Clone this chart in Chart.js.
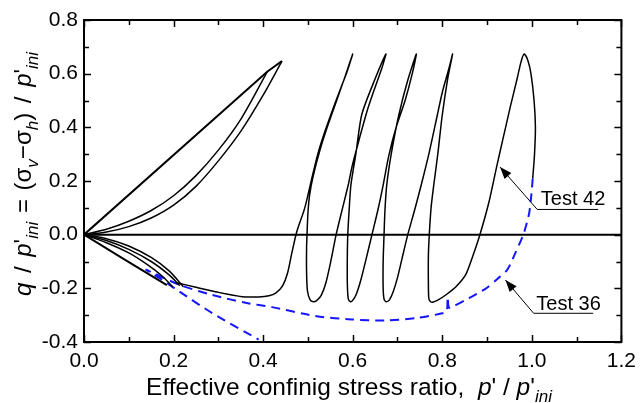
<!DOCTYPE html>
<html><head><meta charset="utf-8">
<script src="https://cdn.jsdelivr.net/npm/chart.js@4"></script>
<style>html,body{margin:0;padding:0;background:#fff}canvas{display:block}</style>
</head><body>
<canvas id="c" width="643" height="403"></canvas>
<script>
// ---------- data ----------
const xTickValues = [0.0, 0.2, 0.4, 0.6, 0.8, 1.0, 1.2];
const yTickValues = [-0.4, -0.2, 0.0, 0.2, 0.4, 0.6, 0.8];

// Test 42 (black): main cyclic path, p'/p'ini vs q/p'ini
const test42Main = [
  [1.002,0.21],[1.006,0.30],[1.008,0.40],[1.005,0.50],[0.998,0.60],[0.991,0.65],[0.983,0.673],
  [0.976,0.645],[0.967,0.58],[0.952,0.477],[0.935,0.353],[0.921,0.25],[0.904,0.12],[0.884,0.0],
  [0.868,-0.08],[0.852,-0.15],[0.83,-0.195],[0.81,-0.222],[0.792,-0.242],[0.780,-0.251],[0.774,-0.250],
  [0.770,-0.238],[0.769,-0.18],[0.769,-0.08],[0.771,0.0],[0.775,0.10],[0.781,0.185],[0.790,0.30],
  [0.800,0.446],[0.812,0.58],[0.823,0.673],
  [0.815,0.62],[0.800,0.53],[0.789,0.446],[0.770,0.30],[0.753,0.185],[0.738,0.09],[0.723,0.0],
  [0.710,-0.09],[0.700,-0.16],[0.690,-0.215],[0.682,-0.243],[0.675,-0.250],[0.670,-0.240],
  [0.668,-0.20],[0.668,-0.10],[0.670,0.0],[0.672,0.09],[0.676,0.185],[0.686,0.30],[0.703,0.446],
  [0.722,0.57],[0.742,0.673],
  [0.733,0.60],[0.717,0.50],[0.697,0.40],[0.680,0.29],[0.668,0.185],[0.656,0.09],[0.643,0.0],
  [0.630,-0.09],[0.618,-0.17],[0.608,-0.222],[0.600,-0.245],[0.595,-0.250],[0.590,-0.238],
  [0.588,-0.18],[0.588,-0.08],[0.589,0.0],[0.592,0.09],[0.596,0.185],[0.607,0.30],[0.620,0.446],
  [0.645,0.56],[0.674,0.673],
  [0.665,0.62],[0.648,0.54],[0.632,0.46],[0.612,0.34],[0.598,0.25],[0.590,0.185],[0.576,0.09],
  [0.563,0.0],[0.551,-0.10],[0.540,-0.18],[0.530,-0.225],[0.520,-0.245],[0.512,-0.250],
  [0.505,-0.243],[0.499,-0.21],[0.497,-0.14],[0.497,-0.05],[0.498,0.0],[0.500,0.08],[0.504,0.15],
  [0.512,0.22],[0.526,0.31],[0.543,0.40],[0.562,0.49],[0.580,0.575],[0.600,0.673],
  [0.588,0.61],[0.572,0.54],[0.555,0.465],[0.538,0.385],[0.522,0.30],[0.508,0.205],[0.493,0.10],
  [0.475,0.01],[0.464,-0.069],[0.455,-0.14],[0.443,-0.192],[0.428,-0.218],[0.413,-0.228],
  [0.390,-0.232],[0.353,-0.231],[0.300,-0.215],[0.250,-0.196],[0.205,-0.178]
];
// Test 42: cycles through the origin
const test42Up1 = [[0,0],[0.409,0.607],[0.442,0.647]];
const test42Up2 = [[0,0],[0.05,0.010],[0.10,0.030],[0.15,0.062],[0.20,0.110],[0.25,0.180],[0.30,0.275],[0.35,0.385],[0.40,0.520],[0.442,0.647]];
const test42Up3 = [[0,0],[0.05,0.020],[0.10,0.050],[0.15,0.090],[0.20,0.145],[0.25,0.220],[0.30,0.315],[0.35,0.430],[0.409,0.607]];
const test42Dn1 = [[0,0],[0.090,-0.092],[0.185,-0.188]];
const test42Dn2 = [[0,0],[0.05,-0.015],[0.10,-0.042],[0.15,-0.085],[0.19,-0.135],[0.222,-0.194]];
const test42Dn3 = [[0,0],[0.05,-0.022],[0.10,-0.055],[0.15,-0.100],[0.19,-0.150],[0.214,-0.190]];
const test42Dn4 = [[0,0],[0.05,-0.030],[0.10,-0.068],[0.14,-0.110],[0.175,-0.155],[0.198,-0.195]];

// Test 36 (blue dashed)
const test36 = [
  [1.002,0.21],[0.999,0.15],[0.994,0.08],[0.982,0.005],[0.963,-0.069],[0.945,-0.131],[0.923,-0.165],
  [0.900,-0.198],[0.878,-0.220],[0.850,-0.245],[0.827,-0.265],[0.815,-0.272],[0.812,-0.232],
  [0.810,-0.285],[0.800,-0.293],[0.745,-0.310],[0.671,-0.320],[0.597,-0.316],[0.523,-0.305],
  [0.494,-0.296],[0.420,-0.270],[0.361,-0.254],[0.287,-0.225],[0.213,-0.187],[0.139,-0.131],
  [0.169,-0.162],[0.213,-0.212],[0.287,-0.293],[0.390,-0.391]
];
const zeroLine = [[0,0],[1.2,0]];

// ---------- styling / helpers ----------
const FAMILY = '"Liberation Sans", Arial, sans-serif';
const toXY = a => a.map(p => ({x: p[0], y: p[1]}));
function blackSet(arr, w, t) {
  return {data: toXY(arr), showLine: true, borderColor: '#000', borderWidth: w || 1.5,
          pointRadius: 0, fill: false, tension: t === undefined ? 0.25 : t};
}
const annotations = [
  {label: 'Test 42', tip: [0.929, 0.252], elbow: [1.012, 0.094], end: [1.148, 0.094], text: [1.02, 0.111]},
  {label: 'Test 36', tip: [0.941, -0.169], elbow: [1.004, -0.293], end: [1.137, -0.293], text: [1.01, -0.281]}
];

function drawRuns(ctx, runs, x, y, size, measureOnly) {
  let cx = x;
  for (const r of runs) {
    if (r.gap) { cx += r.gap; continue; }
    const s = r.sub ? Math.round(size * 0.7) : size;
    ctx.font = (r.it ? 'italic ' : '') + s + 'px ' + FAMILY;
    const dy = r.sub ? size * 0.28 : 0;
    if (!measureOnly) ctx.fillText(r.t, cx, y + dy);
    cx += ctx.measureText(r.t).width;
  }
  return cx - x;
}

const xTitleRuns = [{t: 'Effective confinig stress ratio,  '}, {t: 'p', it: 1}, {t: "' / "}, {t: 'p', it: 1}, {t: "'"}, {t: 'ini', it: 1, sub: 1}];
const yTitleRuns = [{t: 'q', it: 1}, {gap: 3}, {t: ' / '}, {gap: 3}, {t: 'p', it: 1}, {t: "'"}, {t: 'ini', it: 1, sub: 1},
  {gap: 2}, {t: ' = '}, {gap: 2}, {t: '('},
  {t: 'σ'}, {t: 'v', it: 1, sub: 1}, {t: '−'}, {t: 'σ'}, {t: 'h', it: 1, sub: 1}, {t: ')'}, {gap: 3}, {t: ' / '}, {gap: 3},
  {t: 'p', it: 1}, {t: "'"}, {t: 'ini', it: 1, sub: 1}];

const framePlugin = {
  id: 'frame',
  afterDraw(chart) {
    const ctx = chart.ctx, a = chart.chartArea;
    const xs = chart.scales.x, ys = chart.scales.y;
    ctx.save();
    ctx.strokeStyle = '#000';
    ctx.lineWidth = 2;
    ctx.strokeRect(a.left, a.top, a.right - a.left, a.bottom - a.top);
    ctx.lineWidth = 1.5;
    ctx.beginPath();
    const xt = [];
    for (let i = 0; i < xTickValues.length; i++) {
      xt.push([xTickValues[i], 7]);
      if (i < xTickValues.length - 1) xt.push([(xTickValues[i] + xTickValues[i + 1]) / 2, 5]);
    }
    for (const [v, L] of xt) {
      const px = Math.round(xs.getPixelForValue(v)) + 0.5;
      ctx.moveTo(px, a.bottom); ctx.lineTo(px, a.bottom - L);
      ctx.moveTo(px, a.top); ctx.lineTo(px, a.top + L);
    }
    const yt = [];
    for (let i = 0; i < yTickValues.length; i++) {
      yt.push([yTickValues[i], 7]);
      if (i < yTickValues.length - 1) yt.push([(yTickValues[i] + yTickValues[i + 1]) / 2, 5]);
    }
    for (const [v, L] of yt) {
      const py = Math.round(ys.getPixelForValue(v)) + 0.5;
      ctx.moveTo(a.left, py); ctx.lineTo(a.left + L, py);
      ctx.moveTo(a.right, py); ctx.lineTo(a.right - L, py);
    }
    ctx.stroke();

    // annotations
    ctx.fillStyle = '#000';
    ctx.lineWidth = 1;
    for (const an of annotations) {
      const tx = xs.getPixelForValue(an.tip[0]), ty = ys.getPixelForValue(an.tip[1]);
      const ex = xs.getPixelForValue(an.elbow[0]), ey = ys.getPixelForValue(an.elbow[1]);
      const nx = xs.getPixelForValue(an.end[0]), ny = ys.getPixelForValue(an.end[1]);
      ctx.beginPath();
      ctx.moveTo(nx, ny); ctx.lineTo(ex, ey); ctx.lineTo(tx, ty);
      ctx.stroke();
      const ang = Math.atan2(ty - ey, tx - ex);
      const L = 12, W = 4.5;
      ctx.beginPath();
      ctx.moveTo(tx, ty);
      ctx.lineTo(tx - L * Math.cos(ang) + W * Math.sin(ang), ty - L * Math.sin(ang) - W * Math.cos(ang));
      ctx.lineTo(tx - L * Math.cos(ang) - W * Math.sin(ang), ty - L * Math.sin(ang) + W * Math.cos(ang));
      ctx.closePath();
      ctx.fill();
      ctx.font = '20px ' + FAMILY;
      ctx.textBaseline = 'alphabetic';
      ctx.textAlign = 'left';
      ctx.fillText(an.label, xs.getPixelForValue(an.text[0]), ys.getPixelForValue(an.text[1]));
    }

    // axis titles
    ctx.textBaseline = 'alphabetic';
    ctx.textAlign = 'left';
    const xw = drawRuns(ctx, xTitleRuns, 0, 0, 24.5, true);
    drawRuns(ctx, xTitleRuns, 349 - xw / 2, 395, 24.5);

    ctx.translate(0, 174);
    ctx.rotate(-Math.PI / 2);
    const yw = drawRuns(ctx, yTitleRuns, 0, 0, 24, true);
    drawRuns(ctx, yTitleRuns, -yw / 2, 31, 24);
    ctx.restore();
  }
};

const datasets = [
  blackSet(zeroLine, 2, 0),
  blackSet(test42Main),
  blackSet(test42Up1, 2, 0),
  blackSet(test42Up2, 1.5, 0.3),
  blackSet(test42Up3, 1.5, 0.3),
  blackSet(test42Dn1, 2, 0),
  blackSet(test42Dn2, 1.5, 0.3),
  blackSet(test42Dn3, 1.5, 0.3),
  blackSet(test42Dn4, 1.5, 0.3),
  {data: toXY(test36), showLine: true, borderColor: '#1515ff', borderWidth: 2, borderDash: [9, 6],
   pointRadius: 0, fill: false, tension: 0.25}
];

new Chart(document.getElementById('c'), {
  type: 'scatter',
  data: {datasets},
  options: {
    responsive: false,
    animation: false,
    devicePixelRatio: 1,
    layout: {padding: {left: 0, right: 18, top: 20, bottom: 0}},
    plugins: {legend: {display: false}, tooltip: {enabled: false}},
    scales: {
      x: {
        type: 'linear', min: 0, max: 1.2,
        afterBuildTicks: s => { s.ticks = xTickValues.map(v => ({value: v})); },
        ticks: {color: '#000', font: {family: FAMILY, size: 21}, padding: 7, maxRotation: 0, autoSkip: false,
                callback: v => Number(v).toFixed(1)},
        grid: {display: false, drawTicks: false},
        border: {display: false},
        afterFit: s => { s.height = 61; }
      },
      y: {
        type: 'linear', min: -0.4, max: 0.8,
        afterBuildTicks: s => { s.ticks = yTickValues.map(v => ({value: v})); },
        ticks: {color: '#000', font: {family: FAMILY, size: 21}, padding: 6, autoSkip: false,
                callback: v => Number(v).toFixed(1)},
        grid: {display: false, drawTicks: false},
        border: {display: false},
        afterFit: s => { s.width = 84; }
      }
    }
  },
  plugins: [framePlugin]
});
</script>
</body></html>
